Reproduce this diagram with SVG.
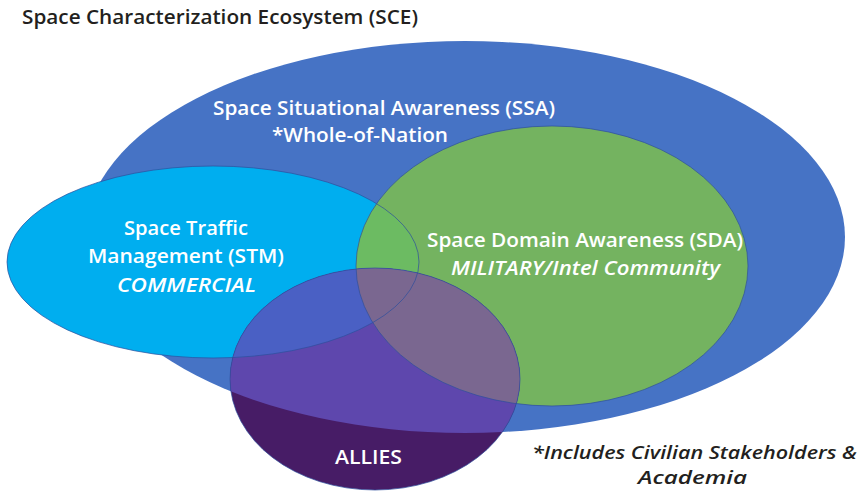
<svg xmlns="http://www.w3.org/2000/svg" width="864" height="491" viewBox="0 0 864 491">
<style>
.t{font-family:"Open Sans","Noto Sans","Liberation Sans",sans-serif;font-weight:600;}
.w{fill:#ffffff;font-size:20px;}
.d{fill:#231f20;}
.i{font-style:italic;}
.ol{fill:none;stroke:#2d4f9c;stroke-width:1;stroke-opacity:0.7;}
</style>
<defs>
<clipPath id="cAll"><ellipse cx="375" cy="379" rx="145" ry="111"/></clipPath>
<clipPath id="cStm"><ellipse cx="213" cy="262" rx="206" ry="96"/></clipPath>
</defs>
<rect width="864" height="491" fill="#ffffff"/>
<text class="t d" x="22" y="24" font-size="20" textLength="396" lengthAdjust="spacingAndGlyphs">Space Characterization Ecosystem (SCE)</text>
<g id="ssa">
<ellipse cx="465" cy="237" rx="380" ry="196" fill="#4673c5"/>
<text class="t w" x="213" y="115" textLength="342" lengthAdjust="spacingAndGlyphs">Space Situational Awareness (SSA)</text>
<text class="t w" x="272" y="142" textLength="176" lengthAdjust="spacingAndGlyphs">*Whole-of-Nation</text>
</g>
<g id="stm">
<ellipse cx="213" cy="262" rx="206" ry="96" fill="#00aeef"/>
<text class="t w" x="124" y="235" textLength="124" lengthAdjust="spacingAndGlyphs">Space Traffic</text>
<text class="t w" x="88" y="263" textLength="196" lengthAdjust="spacingAndGlyphs">Management (STM)</text>
<text class="t w i" x="117" y="292" textLength="139" lengthAdjust="spacingAndGlyphs">COMMERCIAL</text>
</g>
<g id="sda">
<ellipse cx="552" cy="266" rx="196" ry="140" fill="#74b360"/>
<ellipse cx="552" cy="266" rx="196" ry="140" fill="#6cbb62" clip-path="url(#cStm)"/>
<text class="t w" x="427" y="247" textLength="316" lengthAdjust="spacingAndGlyphs">Space Domain Awareness (SDA)</text>
<text class="t w i" x="451" y="275" textLength="269" lengthAdjust="spacingAndGlyphs">MILITARY/Intel Community</text>
</g>
<g id="allies">
<ellipse cx="375" cy="379" rx="145" ry="111" fill="#471c66"/>
<ellipse cx="465" cy="237" rx="380" ry="196" fill="#5e47ad" clip-path="url(#cAll)"/>
<ellipse cx="213" cy="262" rx="206" ry="96" fill="#4a60c4" clip-path="url(#cAll)"/>
<ellipse cx="552" cy="266" rx="196" ry="140" fill="#7a6790" clip-path="url(#cAll)"/>
<text class="t w" x="335" y="464" textLength="67" lengthAdjust="spacingAndGlyphs">ALLIES</text>
</g>
<g id="outlines">
<ellipse class="ol" cx="213" cy="262" rx="206" ry="96"/>
<ellipse class="ol" cx="552" cy="266" rx="196" ry="140"/>
<ellipse class="ol" cx="375" cy="379" rx="145" ry="111"/>
</g>
<g id="note">
<text class="t d i" x="532" y="459" font-size="18" textLength="325" lengthAdjust="spacingAndGlyphs">*Includes Civilian Stakeholders &amp;</text>
<text class="t d i" x="638" y="484" font-size="18" textLength="109" lengthAdjust="spacingAndGlyphs">Academia</text>
</g>
</svg>
